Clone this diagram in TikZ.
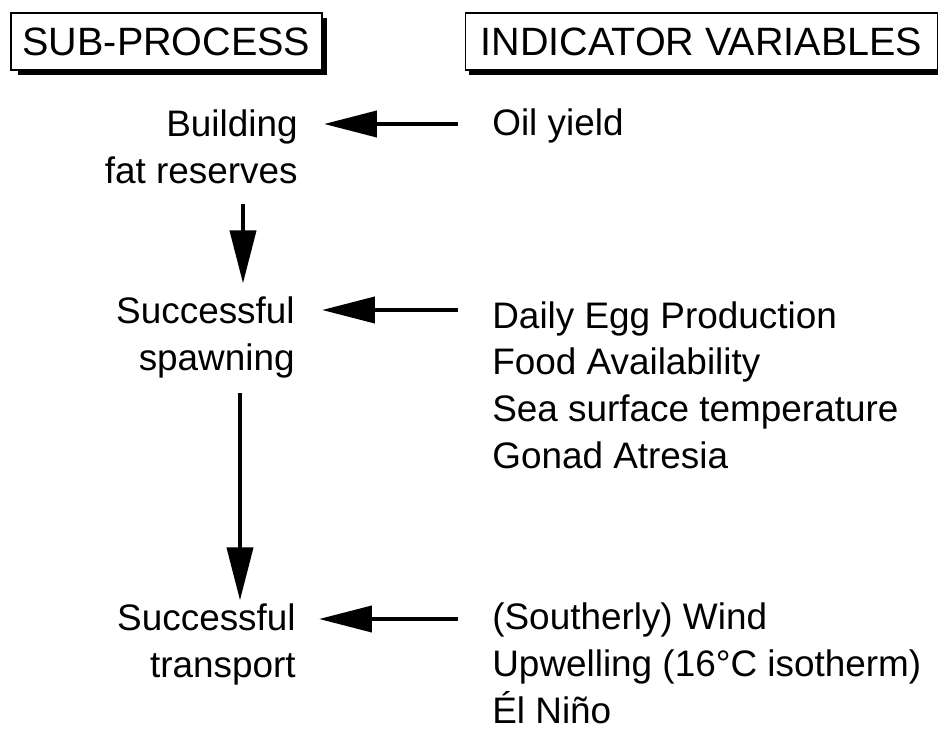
\documentclass[tikz,border=0pt]{standalone}
\usepackage{fontspec}
\setmainfont{Liberation Sans}
\usetikzlibrary{arrows.meta}

\begin{document}
\begin{tikzpicture}[x=0.02cm, y=-0.02cm,
	hdr/.style={draw, line width=0.7pt, inner sep=0pt, minimum height=1.14cm,
		font=\fontsize{22.5}{27}\selectfont},
	boxshade/.style={line width=2.4pt},
	sub/.style={anchor=base east, align=right, inner sep=0pt,
		font=\fontsize{21}{26.5}\selectfont},
	ind/.style={anchor=base west, align=left, inner sep=0pt,
		font=\fontsize{21}{26.5}\selectfont},
	flow/.style={line width=2.3pt, -{Triangle[length=10.6mm, width=5.2mm]}}]

	\useasboundingbox (0,0) rectangle (938,730);

	\node (subhdr) [hdr, minimum width=6.22cm] at (166.5,41.5) {SUB-PROCESS};
	\node (indhdr) [hdr, anchor=west, inner xsep=0.3cm] at (465,41.5) {INDICATOR VARIABLES};
	\draw[boxshade] ([shift={(2,6)}]subhdr.north east) -- ([shift={(2,2)}]subhdr.south east)
		-- ([shift={(8,2)}]subhdr.south west);
	\draw[boxshade] ([shift={(4,2)}]indhdr.south west) -- ([shift={(2,2)}]indhdr.south east);

	\node (build) [sub] at (298,183) {Building\\fat reserves};
	\node (spawn) [sub] at (295,370) {Successful\\spawning};
	\node (trans) [sub] at (296,677) {Successful\\transport};

	\node (oil) [ind] at (492,135) {Oil yield};
	\node (egg) [ind] at (492,468) {Daily Egg Production\\Food Availability\\Sea surface temperature\\Gonad Atresia};
	\node (wind) [ind] at (492,723) {(Southerly) Wind\\Upwelling (16°C isotherm)\\Él Niño};

	\draw[flow] ([shift={(-34,-11)}]oil.base west) -- ([shift={(26,-59)}]build.base east);
	\draw[flow] ([shift={(-34,-158)}]egg.base west) -- ([shift={(27,-60)}]spawn.base east);
	\draw[flow] ([shift={(-34,-104)}]wind.base west) -- ([shift={(23,-58)}]trans.base east);

	\draw[flow] ([shift={(-55,20)}]build.south east) -- ([shift={(-52,-13)}]spawn.north east);
	\draw[flow] ([shift={(-55,15)}]spawn.south east) -- ([shift={(-56,-3)}]trans.north east);

\end{tikzpicture}
\end{document}
